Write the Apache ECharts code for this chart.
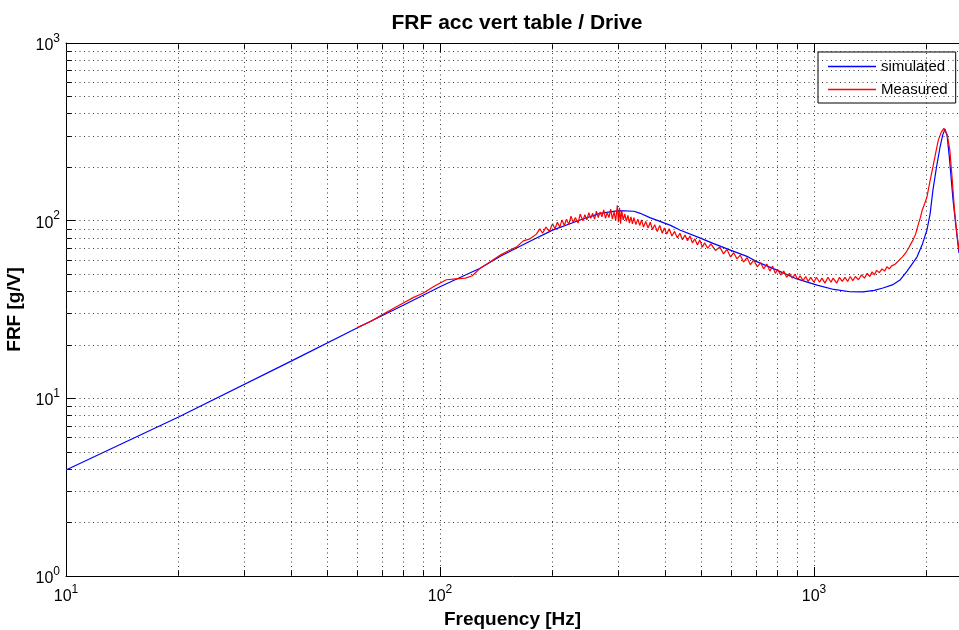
<!DOCTYPE html>
<html>
<head>
<meta charset="utf-8">
<script src="https://cdn.jsdelivr.net/npm/echarts@6/dist/echarts.min.js"></script>
<style>
html,body{margin:0;padding:0;background:#fff;}
#chart{width:959px;height:630px;}
</style>
</head>
<body>
<div id="chart"></div>
<script>
// ---- data ----
const simFreq = [10, 20, 40, 60, 80, 100, 128, 145, 174, 200, 237, 268, 300, 330, 343, 364, 412, 438, 495, 537, 600, 662, 700, 796, 900, 1019, 1130, 1248, 1352, 1450, 1529, 1620, 1698, 1774, 1885, 1950, 2005, 2045, 2080, 2130, 2173, 2210, 2240, 2270, 2300, 2354, 2400, 2442];
const simVal  = [3.95, 7.85, 16.2, 24.9, 33.5, 42.5, 54, 63, 76.5, 88.5, 100.8, 110, 113.8, 113, 110, 104, 94.4, 88.6, 80, 74.5, 68, 63, 59, 52.7, 47, 43.4, 41, 39.8, 39.7, 40.5, 41.8, 43.5, 46.3, 52, 62.4, 74, 88.6, 110, 148.7, 205, 259, 305, 327, 300, 230, 131, 90, 65.7];

const measFreq = [60, 65, 70, 75, 80, 85, 90, 97, 104, 110, 117, 122, 128, 136, 145, 153, 160, 167, 174,
  181, 185, 188, 192, 196, 200, 203, 206, 209, 212, 215, 218, 221, 224, 227, 230, 234, 237, 241, 244, 247, 250, 253, 256, 259, 262, 265, 268, 271, 274, 277, 280, 283, 286, 289, 292, 295, 298, 300, 302, 304, 306, 309, 312, 315, 318, 321, 324, 327, 330, 334, 338, 342, 346, 350, 355, 360, 365, 370, 375, 381, 387, 393, 398, 404, 410, 417, 424, 431, 438, 445, 452, 459, 466, 473, 480, 488, 495, 503, 510, 520, 530, 545, 560, 573, 585, 598, 610, 622, 635, 648, 662, 676, 690, 705, 720, 734, 748, 762, 775, 788, 800, 815, 830, 845, 860, 875, 890, 905, 918, 935, 950, 965, 980, 1000, 1015, 1035, 1050, 1070, 1090, 1110, 1125, 1150, 1170, 1190, 1210, 1230, 1250, 1270, 1290, 1315, 1340, 1365, 1387, 1410, 1430, 1450, 1470, 1495, 1520, 1545, 1567, 1590,
  1610, 1650, 1690, 1729, 1760, 1790, 1815, 1841, 1870, 1900, 1925, 1946, 1975, 2005, 2040, 2080, 2115, 2150, 2190, 2226, 2250, 2270, 2290, 2308, 2340, 2375, 2410, 2442];
const measVal  = [25, 27, 29.5, 32, 34.5, 37, 39, 43, 46.5, 47, 47.5, 49, 54, 58.5, 64, 68, 71, 77, 79,
  84, 90, 85, 92, 87, 96, 90, 98, 92, 101, 94, 102, 95, 106, 98, 104, 97, 109, 100, 108, 101, 111, 103, 110, 102, 113, 104, 112, 105, 115, 103, 111, 104, 116, 102, 112, 100, 122, 98, 118, 96, 114, 101, 109, 99, 107, 97, 105, 96, 104, 95, 102, 94, 101, 92, 99, 91, 98, 89, 95, 87, 94, 85, 91, 84, 90, 82, 87, 80, 85, 78, 83, 77, 82, 75, 79, 73, 78, 71, 75, 70, 74, 68, 71, 65, 69, 62.5, 66, 61, 64, 58.5, 62, 56.5, 60, 55, 58, 53.5, 57, 52, 55.5, 50.5, 53, 49.5, 52, 48, 50.5, 47.5, 50, 46.5, 49, 46, 48.5, 45.5, 48, 45, 48, 45, 47.5, 44.5, 48, 45, 47.5, 44.5, 48, 45.5, 48, 45.5, 48.5, 46, 48.5, 46.5, 49.5, 47.5, 50.5, 48.5, 51.5, 49.5, 52.5, 51, 53.5, 52, 55, 53.5,
  55.5, 57, 60, 63, 66, 70, 74, 78, 84, 95, 104, 114, 124, 136, 165, 201, 240, 284, 315, 331, 325, 305, 275, 250, 175, 115, 85, 68];

const xMinorTicks = [20, 30, 40, 50, 60, 70, 80, 90, 200, 300, 400, 500, 600, 700, 800, 900, 2000];
const yMinorTicks = [2, 3, 4, 5, 6, 7, 8, 9, 20, 30, 40, 50, 60, 70, 80, 90, 200, 300, 400, 500, 600, 700, 800, 900];

const titleText = 'FRF acc vert table / Drive';
const xName = 'Frequency [Hz]';
const yName = 'FRF [g/V]';
const seriesNames = ['simulated', 'Measured'];

// ---- chart ----
const FONT = '"Liberation Sans", Arial, Helvetica, sans-serif';
const gridStyle = { color: '#3a3a3a', width: 1, type: [1, 3.5] };
function decadeLabel(v) {
  const e = Math.log10(v);
  if (Math.abs(e - Math.round(e)) > 1e-6) return '';
  return '{b|10}{s|' + Math.round(e) + '}';
}
const richLab = {
  b: { fontSize: 16, fontFamily: FONT, color: '#000', verticalAlign: 'bottom', lineHeight: 16 },
  s: { fontSize: 12, fontFamily: FONT, color: '#000', verticalAlign: 'top', lineHeight: 21 }
};

const pair = (xs, ys) => xs.map((x, i) => [x, ys[i]]);

const chart = echarts.init(document.getElementById('chart'), null, { renderer: 'canvas' });
const XMIN = 10, XMAX = 2442, YMIN = 1, YMAX = 1000;

chart.setOption({
  animation: false,
  backgroundColor: '#fff',
  title: {
    text: titleText, left: 512, top: 8, textAlign: 'center',
    textStyle: { fontFamily: FONT, fontSize: 21, fontWeight: 'bold', color: '#000' }
  },
  legend: {
    data: seriesNames, orient: 'vertical', left: 818, top: 52,
    icon: 'rect', itemWidth: 48, itemHeight: 1.5, itemGap: 8,
    padding: [7, 8, 6, 10],
    backgroundColor: '#fff', borderColor: '#000', borderWidth: 1,
    textStyle: { fontFamily: FONT, fontSize: 15, color: '#000' }
  },
  grid: { left: 66, top: 43, right: 0, bottom: 54, containLabel: false, outerBoundsMode: 'none' },
  xAxis: [
    {
      type: 'log', logBase: 10, min: XMIN, max: XMAX, position: 'bottom',
      name: xName, nameLocation: 'middle', nameGap: 32,
      nameTextStyle: { fontFamily: FONT, fontSize: 19, fontWeight: 'bold', color: '#000' },
      axisLine: { show: true, lineStyle: { color: '#000', width: 1 } },
      axisTick: { show: true, inside: true, length: 9, lineStyle: { color: '#000' } },
      axisLabel: { formatter: decadeLabel, rich: richLab, margin: 8, showMaxLabel: false },
      splitLine: { show: true, lineStyle: gridStyle }
    },
    {
      type: 'log', logBase: 10, min: XMIN, max: XMAX, position: 'top',
      axisLine: { show: true, lineStyle: { color: '#000', width: 1 } },
      axisTick: { show: true, inside: true, length: 9, lineStyle: { color: '#000' } },
      axisLabel: { show: false }, splitLine: { show: false }
    },
    {
      type: 'log', logBase: 10, min: XMIN, max: XMAX, position: 'bottom',
      axisLine: { show: false },
      axisTick: { show: true, inside: true, length: 6, customValues: xMinorTicks, lineStyle: { color: '#000' } },
      axisLabel: { show: false, customValues: xMinorTicks }, splitLine: { show: false }
    },
    {
      type: 'log', logBase: 10, min: XMIN, max: XMAX, position: 'top',
      axisLine: { show: false },
      axisTick: { show: true, inside: true, length: 6, customValues: xMinorTicks, lineStyle: { color: '#000' } },
      axisLabel: { show: false, customValues: xMinorTicks }, splitLine: { show: false }
    }
  ],
  yAxis: [
    {
      type: 'log', logBase: 10, min: YMIN, max: YMAX, position: 'left',
      name: yName, nameLocation: 'middle', nameGap: 40, nameRotate: 90,
      nameTextStyle: { fontFamily: FONT, fontSize: 19, fontWeight: 'bold', color: '#000' },
      axisLine: { show: true, lineStyle: { color: '#000', width: 1 } },
      axisTick: { show: true, inside: true, length: 9, lineStyle: { color: '#000' } },
      axisLabel: { formatter: decadeLabel, rich: richLab, margin: 6 },
      splitLine: { show: true, lineStyle: gridStyle }
    },
    {
      type: 'log', logBase: 10, min: YMIN, max: YMAX, position: 'left',
      axisLine: { show: false },
      axisTick: { show: true, inside: true, length: 6, customValues: yMinorTicks, lineStyle: { color: '#000' } },
      axisLabel: { show: false, customValues: yMinorTicks }, splitLine: { show: false }
    }
  ],
  series: [
    {
      name: 'minor-grid', type: 'line', data: [], silent: true, z: 1,
      markLine: {
        silent: true, symbol: ['none', 'none'], animation: false,
        label: { show: false }, emphasis: { disabled: true },
        lineStyle: gridStyle,
        data: xMinorTicks.map(v => ({ xAxis: v })).concat(yMinorTicks.map(v => ({ yAxis: v })))
      }
    },
    {
      name: seriesNames[0], type: 'line', data: pair(simFreq, simVal),
      symbol: 'none', smooth: false, z: 3,
      lineStyle: { color: '#0000ff', width: 1.2 }, itemStyle: { color: '#0000ff' }
    },
    {
      name: seriesNames[1], type: 'line', data: pair(measFreq, measVal),
      symbol: 'none', smooth: false, z: 4,
      lineStyle: { color: '#ff0000', width: 1.2 }, itemStyle: { color: '#ff0000' }
    }
  ]
});
</script>
</body>
</html>
